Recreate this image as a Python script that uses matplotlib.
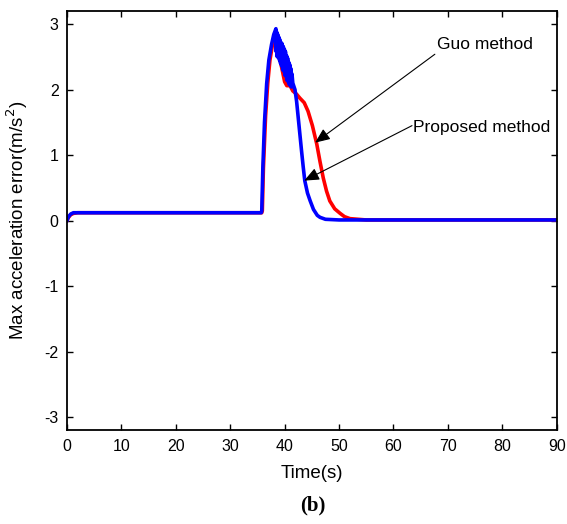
import matplotlib.pyplot as plt

plt.rcParams['font.family'] = ['Liberation Sans', 'DejaVu Sans']
plt.rcParams['axes.unicode_minus'] = False

# acceleration error traces (time in s, error in m/s^2)
t_guo = [0, 0.3, 0.7, 1.2, 2.0, 10, 20, 30, 35.8, 35.9, 36.1, 36.5, 36.9, 37.3, 37.8, 38.3,
         38.6, 39.0, 39.5, 40.0, 40.4, 41.0, 41.5, 42.2, 42.8, 43.6, 44.3, 45.1, 45.9, 46.5,
         47.1, 47.7, 48.3, 49.2, 50.2, 51.0, 52.0, 55, 60, 70, 80, 90]
e_guo = [0.0, 0.05, 0.09, 0.11, 0.12, 0.12, 0.12, 0.12, 0.12, 0.15, 0.8, 1.6, 2.1, 2.45, 2.7, 2.88,
         2.62, 2.52, 2.32, 2.12, 2.06, 2.06, 1.98, 1.93, 1.87, 1.8, 1.67, 1.45, 1.17, 0.9,
         0.65, 0.45, 0.3, 0.18, 0.11, 0.06, 0.03, 0.01, 0.01, 0.01, 0.01, 0.01]

t_prop = [0, 0.3, 0.7, 1.2, 2.0, 10, 20, 30, 35.7, 35.8, 36.0, 36.3, 36.7, 37.1, 37.6, 38.0,
          38.4, 38.45, 38.55, 38.65, 38.75, 38.85, 38.95, 39.05, 39.15, 39.25, 39.35, 39.45,
          39.55, 39.65, 39.75, 39.85, 39.95, 40.05, 40.15, 40.25, 40.35, 40.45, 40.55, 40.65,
          40.75, 40.85, 40.95, 41.05, 41.15, 41.25, 41.35, 41.5, 41.7, 41.9,
          42.2, 42.5, 42.8, 43.1, 43.4, 43.7, 44.2, 44.7, 45.3, 46.0, 46.5, 47.5,
          50, 60, 70, 80, 90]
e_prop = [0.0, 0.06, 0.1, 0.12, 0.12, 0.12, 0.12, 0.12, 0.12, 0.15, 0.81, 1.5, 2.09, 2.45, 2.69, 2.84,
          2.93, 2.58, 2.88, 2.5, 2.84, 2.52, 2.8, 2.45, 2.76, 2.4, 2.72, 2.36, 2.7, 2.3,
          2.66, 2.28, 2.62, 2.22, 2.58, 2.2, 2.52, 2.14, 2.48, 2.12, 2.42, 2.08, 2.38, 2.06,
          2.32, 2.04, 2.24, 2.1, 2.05, 2.0,
          1.82, 1.57, 1.32, 1.07, 0.83, 0.61, 0.42, 0.3, 0.17, 0.08, 0.05, 0.02,
          0.01, 0.01, 0.01, 0.01, 0.01]

fig = plt.figure(figsize=(5.67, 5.24), dpi=100)
ax = fig.add_axes([0.118, 0.179, 0.864, 0.80])

ax.plot(t_guo, e_guo, color='red', lw=2.6)
ax.plot(t_prop, e_prop, color='blue', lw=2.6)

ax.set_xlim(0, 90)
ax.set_ylim(-3.2, 3.2)
ax.set_xticks(range(0, 91, 10))
ax.set_yticks(range(-3, 4))
ax.tick_params(direction='in', top=True, right=True, labelsize=11.5, length=4, width=1, pad=6)
for s in ax.spines.values():
    s.set_linewidth(1.3)

ax.set_xlabel('Time(s)', fontsize=13.5, labelpad=8)
ax.set_ylabel('Max acceleration error(m/s$^2$)', fontsize=13.5, labelpad=10)

arrow = dict(arrowstyle='-|>,head_length=0.9,head_width=0.38', color='black', lw=0.8,
             shrinkA=0, shrinkB=0)
ax.annotate('', xy=(45.6, 1.19), xytext=(67.6, 2.54), arrowprops=arrow)
ax.text(68.0, 2.69, 'Guo method', fontsize=12.5, va='center', ha='left')
ax.annotate('', xy=(43.6, 0.61), xytext=(63.4, 1.45), arrowprops=arrow)
ax.text(63.6, 1.42, 'Proposed method', fontsize=12.5, va='center', ha='left')

fig.text(0.552, 0.035, '(b)', fontsize=15, fontweight='bold',
         family='Liberation Serif', ha='center', va='center')

fig.savefig('out.png')
